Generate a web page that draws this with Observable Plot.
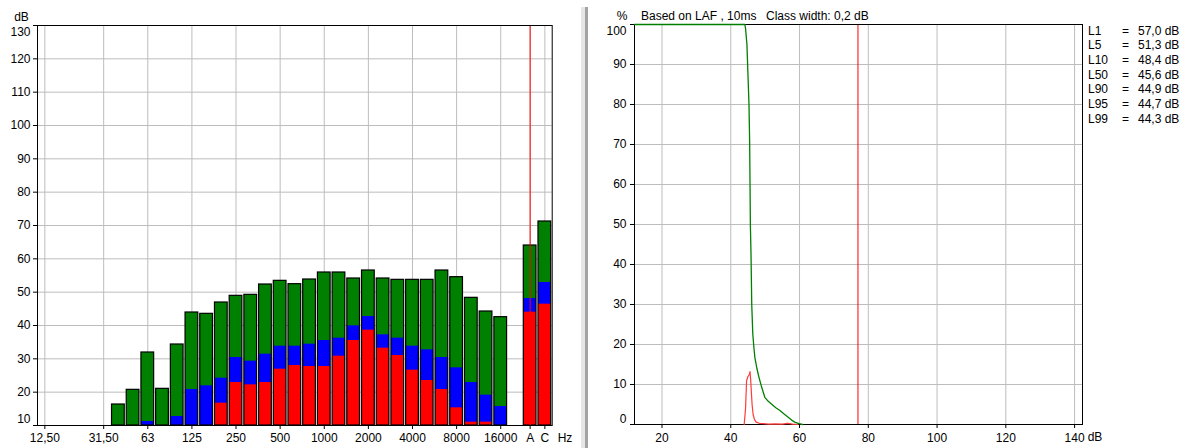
<!DOCTYPE html>
<html>
<head>
<meta charset="utf-8">
<script src="https://cdn.jsdelivr.net/npm/d3@7"></script>
<script src="https://cdn.jsdelivr.net/npm/@observablehq/plot@0.6"></script>
<style>
  html, body { margin: 0; padding: 0; background: #fff; }
  body { width: 1190px; height: 448px; overflow: hidden; position: relative;
         font-family: "Liberation Sans", Arial, sans-serif; font-size: 12px; color: #000; }
  #left { position: absolute; left: 0; top: 0; }
  #right { position: absolute; left: 590px; top: 0; }
  .lbl { position: absolute; white-space: pre; line-height: 12px; transform: translate(-50%, -50%); }
  .ttl { position: absolute; white-space: pre; line-height: 12px; transform: translateY(-50%); }
  #sep1 { position: absolute; left: 581px; top: 7px; width: 4px; height: 441px; background: #e6e6e6; }
  #sep2 { position: absolute; left: 585px; top: 7px; width: 3px; height: 441px; background: #a3a3a3; }
  #stats { position: absolute; left: 1088px; top: 23.6px; line-height: 14.7px; }
  #stats div { position: relative; height: 14.7px; white-space: pre; }
  #stats span { position: absolute; top: 0; }
</style>
</head>
<body>
<div id="left"></div>
<div id="sep1"></div><div id="sep2"></div>
<div id="right"></div>
<div id="stats"></div>
<script>
// ---------- Left chart data: third-octave spectrum ----------
const bands = ["12,50","16","20","25","31,50","40","50","63","80","100","125","160","200","250","315","400","500","630","800","1000","1250","1600","2000","2500","3150","4000","5000","6300","8000","10000","12500","16000"," ","A","C"];
const bandTicks = ["12,50","31,50","63","125","250","500","1000","2000","4000","8000","16000","A","C"];
const levelMax = [null,null,null,null,null,16.3,20.7,31.9,21.0,34.3,43.9,43.5,46.9,48.9,49.2,52.3,53.4,52.4,53.8,55.9,55.9,54.1,56.5,54.1,53.7,53.7,53.7,56.5,54.5,48.3,44.2,42.5,null,64.0,71.2];
const levelEq  = [null,null,null,null,null,null,null,11.2,null,12.7,20.8,21.9,24.2,30.4,29.3,31.4,33.8,33.8,34.4,35.5,36.2,39.9,42.7,37.2,36.2,33.8,32.7,30.4,27.3,22.9,19.1,15.7,null,48.1,52.9];
const levelMin = [null,null,null,null,null,null,null,null,null,null,null,null,16.7,22.9,22.2,22.9,26.9,28.0,27.7,27.7,30.8,35.5,38.6,33.2,31.0,26.6,23.5,20.8,15.3,11.0,11.0,null,null,44.0,46.4];
const leftYTicks = [10,20,30,40,50,60,70,80,90,100,110,120,130];
const cursorBand = "A";

// ---------- Right chart data: level distribution ----------
const cumDb  = [12.0,44.1,44.3,44.7,44.9,45.3,45.5,45.7,45.9,46.1,46.4,46.7,47.0,47.6,48.2,49.0,49.9,50.9,52.0,53.1,54.3,55.5,56.7,57.7,58.6,59.8,60.9];
const cumPct = [100,100,99,95,90,80,70,50,42,30,22.7,19.5,16.8,14,11.8,9.3,6.8,5.8,5.0,4.2,3.5,2.6,1.8,1.1,0.6,0.2,0];
const distDb  = [43.9,44.3,44.6,45.0,45.4,45.6,45.8,46.0,46.2,46.5,46.9,47.4,48.3,49.5,51.0,53.0,55.0,56.5,58.0,59.5];
const distPct = [0,4,11,12,12.5,13.2,11,8,5,2.5,1.2,0.6,0.3,0.2,0.1,0.15,0.1,0.3,0.1,0];
const rightXTicks = [20,40,60,80,100,120,140];
const rightYTicks = [0,10,20,30,40,50,60,70,80,90,100];
const cursorDb = 77;
const statNames  = ["L1","L5","L10","L50","L90","L95","L99"];
const statValues = [57.0,51.3,48.4,45.6,44.9,44.7,44.3];

const font = "'Liberation Sans', Arial, sans-serif";
const gridColor = "#bdbdbd";
const GREEN = "#008000", BLUE = "#0000ff", RED = "#ff0000";

const rows = bands.map((band, i) => ({band, max: levelMax[i], eq: levelEq[i], min: levelMin[i]}));
const yFloor = leftYTicks[0];
const leftEdge = [leftYTicks[0], leftYTicks[leftYTicks.length - 1]];

const left = Plot.plot({
  width: 590, height: 448,
  marginLeft: 37, marginRight: 38.3, marginTop: 25, marginBottom: 23,
  style: {fontFamily: font, fontSize: "12px", color: "#000", background: "transparent", overflow: "visible"},
  x: {type: "band", domain: bands, padding: 0, round: false},
  y: {domain: [10, 130]},
  marks: [
    Plot.gridX(bandTicks, {stroke: gridColor, strokeOpacity: 1}),
    Plot.gridY(leftYTicks, {stroke: gridColor, strokeOpacity: 1}),
    Plot.barY(rows.filter(d => d.max != null), {x: "band", y1: yFloor, y2: "max", fill: GREEN, insetLeft: 1, insetRight: 1}),
    Plot.barY(rows.filter(d => d.eq != null), {x: "band", y1: yFloor, y2: "eq", fill: BLUE, insetLeft: 1, insetRight: 1}),
    Plot.barY(rows.filter(d => d.min != null), {x: "band", y1: yFloor, y2: "min", fill: RED, insetLeft: 1, insetRight: 1}),
    Plot.barY(rows.filter(d => d.max != null), {x: "band", y1: yFloor, y2: "max", fill: "none", stroke: "#000", strokeWidth: 1.2, insetLeft: 1, insetRight: 1}),
    Plot.ruleX([cursorBand], {stroke: RED, strokeWidth: 1}),
    Plot.frame({stroke: "#000"}),
    Plot.axisY(leftYTicks, {tickSize: 4, tickPadding: 3, label: null, tickFormat: d => leftEdge.includes(d) ? "" : d}),
    Plot.text([130], {y: d => d, text: d => d, frameAnchor: "left", dx: -7, dy: 7, textAnchor: "end"}),
    Plot.text([10], {y: d => d, text: d => d, frameAnchor: "left", dx: -7, dy: -6, textAnchor: "end"}),
    Plot.axisX(bandTicks, {tickSize: 4, tickPadding: 4, label: null})
  ]
});
document.getElementById("left").appendChild(left);

const right = Plot.plot({
  width: 600, height: 448,
  marginLeft: 44, marginRight: 108, marginTop: 24, marginBottom: 24,
  style: {fontFamily: font, fontSize: "12px", color: "#000", background: "transparent", overflow: "visible"},
  x: {domain: [12, 142.3]},
  y: {domain: [0, 100]},
  marks: [
    Plot.gridX(rightXTicks, {stroke: gridColor, strokeOpacity: 1}),
    Plot.gridY(rightYTicks, {stroke: gridColor, strokeOpacity: 1}),
    Plot.ruleX([cursorDb], {stroke: RED, strokeWidth: 1}),
    Plot.frame({stroke: "#000"}),
    Plot.line(distDb.map((x, i) => ({x, y: distPct[i]})), {x: "x", y: "y", stroke: "#ff3a3a", strokeWidth: 1.2}),
    Plot.line(cumDb.map((x, i) => ({x, y: cumPct[i]})), {x: "x", y: "y", stroke: GREEN, strokeWidth: 1.3}),
    Plot.axisY(rightYTicks, {tickSize: 4, tickPadding: 4, label: null, tickFormat: d => (d === 0 || d === 100) ? "" : d}),
    Plot.text([100], {y: d => d, text: d => d, frameAnchor: "left", dx: -8, dy: 7, textAnchor: "end"}),
    Plot.text([0], {y: d => d, text: d => d, frameAnchor: "left", dx: -8, dy: -5, textAnchor: "end"}),
    Plot.axisX(rightXTicks, {tickSize: 4, tickPadding: 5, label: null})
  ]
});
document.getElementById("right").appendChild(right);

// ---------- text annotations ----------
function addLabel(text, x, y, cls) {
  const d = document.createElement("div");
  d.className = cls || "lbl";
  d.textContent = text;
  d.style.left = x + "px";
  d.style.top = y + "px";
  document.body.appendChild(d);
}
addLabel("dB", 21.5, 16.5);
addLabel("Hz", 565, 437.5);
addLabel("%", 622, 15.5);
addLabel("Based on LAF , 10ms", 641, 15.5, "ttl");
addLabel("Class width: 0,2 dB", 766, 15.5, "ttl");
addLabel("dB", 1095, 437);

const stats = document.getElementById("stats");
statNames.forEach((n, i) => {
  const row = document.createElement("div");
  row.innerHTML = `<span style="left:0">${n}</span><span style="left:34px">=</span><span style="left:50px">${statValues[i].toFixed(1).replace(".", ",")} dB</span>`;
  stats.appendChild(row);
});
</script>
</body>
</html>
